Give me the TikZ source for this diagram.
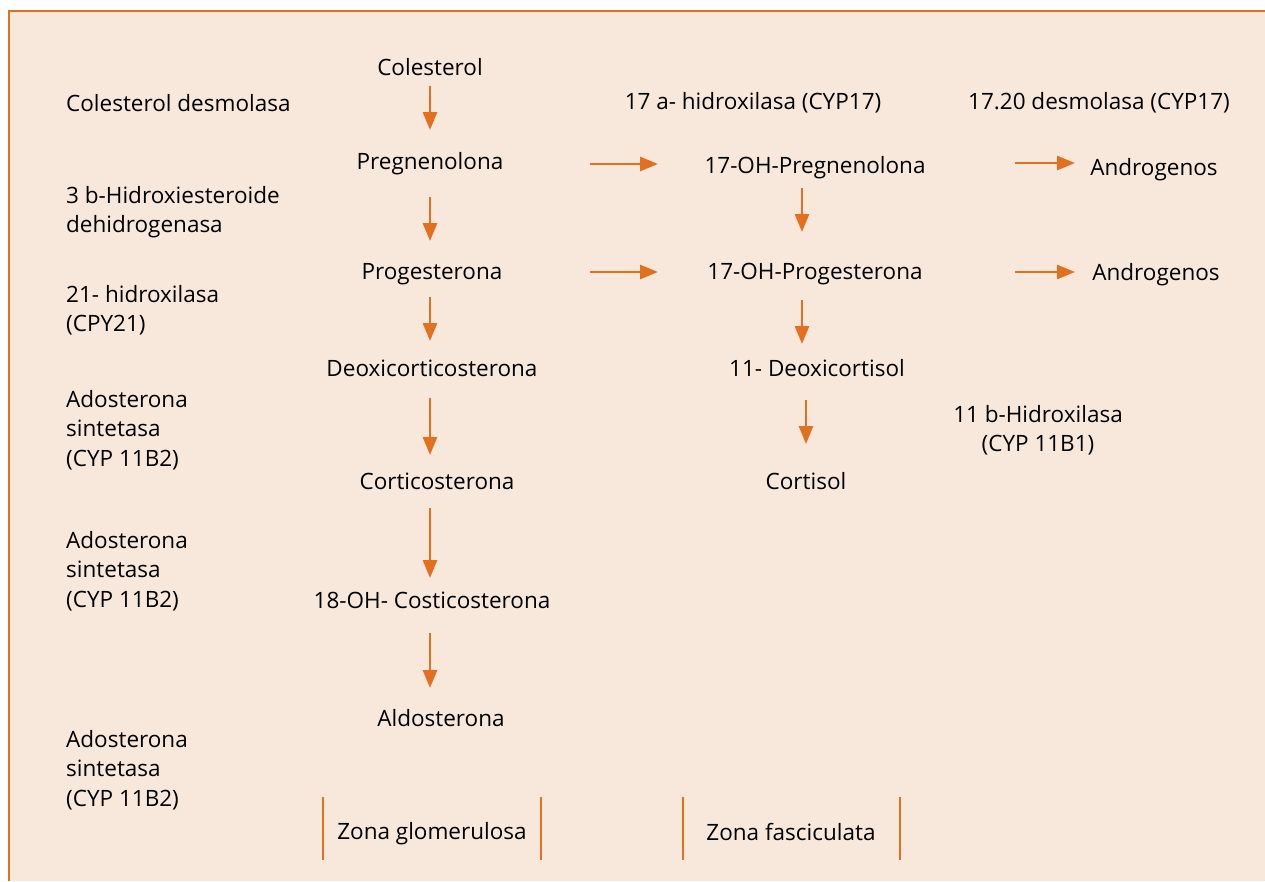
\documentclass[tikz,border=0pt]{standalone}
\usepackage{fontspec}
\setmainfont{Open Sans}
\usetikzlibrary{arrows.meta}
\definecolor{zoneorange}{HTML}{E2701F}
\definecolor{zonefill}{HTML}{F8E8DC}
\tikzset{
  step arrow/.style={-{Triangle[length=18pt,width=14pt]},line width=2.8pt,draw=zoneorange},
  zone bar/.style={line width=2.4pt,draw=zoneorange},
  enzyme/.style={anchor=west,align=left,inner sep=0pt},
  compound/.style={inner sep=0pt}
}
\begin{document}
\begin{tikzpicture}[x=1pt,y=-1pt,font=\fontsize{22.5}{29.5}\selectfont]
\useasboundingbox (0,0) rectangle (1265,881);
\fill [zonefill] (9,11) rectangle (1265,881);
\draw [zoneorange,line width=1.5pt] (9,881) -- (9,11) -- (1265,11);
% enzymes, left side
\node[enzyme] (e0) at (66,103) {Colesterol desmolasa};
\node[enzyme] (e1) at (66,212) {3 b-Hidroxiesteroide\\dehidrogenasa};
\node[enzyme] (e2) at (66,310) {21- hidroxilasa\\(CPY21)};
\node[enzyme] (e3) at (66,430) {Adosterona\\sintetasa\\(CYP 11B2)};
\node[enzyme] (e4) at (66,571) {Adosterona\\sintetasa\\(CYP 11B2)};
\node[enzyme] (e5) at (66,770) {Adosterona\\sintetasa\\(CYP 11B2)};
% enzymes, top and right
\node[compound] (e6) at (753,103) {17 a- hidroxilasa (CYP17)};
\node[compound] (e7) at (1099,103) {17.20 desmolasa (CYP17)};
\node[compound,align=center] (e8) at (1038,430) {11 b-Hidroxilasa\\(CYP 11B1)};
% glomerulosa column
\node[compound] (v0) at (430,67) {Colesterol};
\node[compound] (v1) at (430,164) {Pregnenolona};
\node[compound] (v2) at (432,274) {Progesterona};
\node[compound] (v3) at (432,368) {Deoxicorticosterona};
\node[compound] (v4) at (437,481) {Corticosterona};
\node[compound] (v5) at (432,600) {18-OH- Costicosterona};
\node[compound] (v6) at (441,718) {Aldosterona};
% fasciculata column
\node[compound] (v7) at (815,168) {17-OH-Pregnenolona};
\node[compound] (v8) at (815,274) {17-OH-Progesterona};
\node[compound] (v9) at (817,368) {11- Deoxicortisol};
\node[compound] (v10) at (806,481) {Cortisol};
\node[compound] (v11) at (1154,170) {Androgenos};
\node[compound] (v12) at (1156,275) {Androgenos};
% zones
\node[compound] (z0) at (432,834) {Zona glomerulosa};
\node[compound] (z1) at (791,832) {Zona fasciculata};
\draw [zone bar] (323,797) -- (323,860);
\draw [zone bar] (541,797) -- (541,860);
\draw [zone bar] (683,797) -- (683,860);
\draw [zone bar] (900,797) -- (900,860);
% steps
\draw [step arrow] (430,86) -- (430,130);
\draw [step arrow] (430,197) -- (430,241);
\draw [step arrow] (430,297) -- (430,341);
\draw [step arrow] (430,398) -- (430,455);
\draw [step arrow] (430,508) -- (430,578);
\draw [step arrow] (430,633) -- (430,688);
\draw [step arrow] (802,188) -- (802,232);
\draw [step arrow] (802,300) -- (802,344);
\draw [step arrow] (806,400) -- (806,444);
\draw [step arrow] (590,164) -- (658,164);
\draw [step arrow] (590,272) -- (658,272);
\draw [step arrow] (1015,163) -- (1075,163);
\draw [step arrow] (1015,272) -- (1075,272);
\end{tikzpicture}
\end{document}
